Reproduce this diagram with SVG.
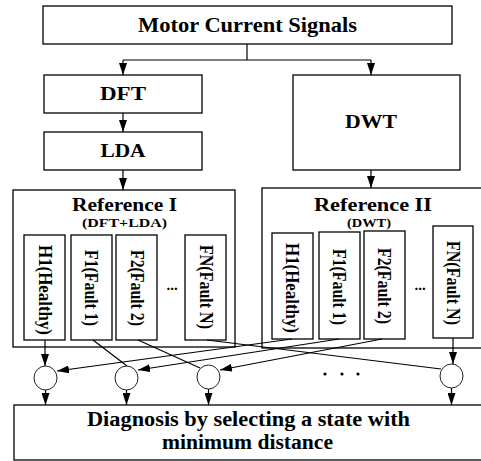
<svg xmlns="http://www.w3.org/2000/svg" width="481" height="461" viewBox="0 0 481 461">
<style>
.box{fill:#fff;stroke:#000;stroke-width:1.3}
.t{font-family:"Liberation Serif","Times New Roman",serif;font-weight:bold;fill:#000;text-anchor:middle}
.c{fill:#fff;stroke:#222;stroke-width:1}
.ln{fill:none;stroke:#000;stroke-width:1.2}
.ar{fill:none;stroke:#000;stroke-width:1.2;marker-end:url(#ah)}
</style>
<defs>
<marker id="ah" markerUnits="userSpaceOnUse" markerWidth="12" markerHeight="8" refX="12" refY="4" orient="auto">
<path d="M0,0 L12,4 L0,8 z" fill="#000"/>
</marker>
</defs>
<rect width="481" height="461" fill="#fff"/>
<g id="motor"><rect class="box" x="43" y="6" width="409" height="38"/><text class="t" x="247.5" y="32" font-size="21" textLength="219" lengthAdjust="spacingAndGlyphs">Motor Current Signals</text></g>
<g id="dft"><rect class="box" x="44" y="75" width="158" height="38"/><text class="t" x="123" y="100" font-size="19" textLength="46" lengthAdjust="spacingAndGlyphs">DFT</text></g>
<g id="lda"><rect class="box" x="44" y="132" width="158" height="38"/><text class="t" x="123" y="157" font-size="19" textLength="45" lengthAdjust="spacingAndGlyphs">LDA</text></g>
<g id="dwt"><rect class="box" x="293" y="75" width="167" height="95"/><text class="t" x="371" y="128" font-size="18" textLength="52" lengthAdjust="spacingAndGlyphs">DWT</text></g>
<g id="ref1"><rect class="box" x="13" y="190" width="222" height="157"/>
<text class="t" x="124.5" y="211" font-size="18" textLength="105" lengthAdjust="spacingAndGlyphs">Reference I</text>
<text class="t" x="124.5" y="227" font-size="12" textLength="85" lengthAdjust="spacingAndGlyphs">(DFT+LDA)</text>
<text class="t" x="172" y="290" font-size="15">...</text></g>
<g id="ref1-h1"><rect class="box" x="24" y="235" width="41" height="105"/><text class="t" transform="translate(38.5,290) rotate(90)" font-size="18" textLength="90" lengthAdjust="spacingAndGlyphs">H1(Healthy)</text></g>
<g id="ref1-f1"><rect class="box" x="71" y="235" width="41" height="105"/><text class="t" transform="translate(85,288) rotate(90)" font-size="18" textLength="76" lengthAdjust="spacingAndGlyphs">F1(Fault 1)</text></g>
<g id="ref1-f2"><rect class="box" x="116" y="235" width="41" height="105"/><text class="t" transform="translate(130.5,288) rotate(90)" font-size="18" textLength="76" lengthAdjust="spacingAndGlyphs">F2(Fault 2)</text></g>
<g id="ref1-fn"><rect class="box" x="185" y="235" width="41" height="105"/><text class="t" transform="translate(199.5,287) rotate(90)" font-size="18" textLength="84" lengthAdjust="spacingAndGlyphs">FN(Fault N)</text></g>
<g id="ref2"><rect class="box" x="262" y="188" width="225" height="160"/>
<text class="t" x="373" y="211" font-size="18" textLength="118" lengthAdjust="spacingAndGlyphs">Reference II</text>
<text class="t" x="369" y="227" font-size="12" textLength="44" lengthAdjust="spacingAndGlyphs">(DWT)</text>
<text class="t" x="420" y="290" font-size="15">...</text></g>
<g id="ref2-h1"><rect class="box" x="272" y="233" width="41" height="106"/><text class="t" transform="translate(286,288) rotate(90)" font-size="18" textLength="90" lengthAdjust="spacingAndGlyphs">H1(Healthy)</text></g>
<g id="ref2-f1"><rect class="box" x="319" y="232" width="41" height="107"/><text class="t" transform="translate(333,287) rotate(90)" font-size="18" textLength="76" lengthAdjust="spacingAndGlyphs">F1(Fault 1)</text></g>
<g id="ref2-f2"><rect class="box" x="364" y="231" width="41" height="108"/><text class="t" transform="translate(378,286) rotate(90)" font-size="18" textLength="76" lengthAdjust="spacingAndGlyphs">F2(Fault 2)</text></g>
<g id="ref2-fn"><rect class="box" x="433" y="226" width="40" height="112"/><text class="t" transform="translate(447,283) rotate(90)" font-size="18" textLength="84" lengthAdjust="spacingAndGlyphs">FN(Fault N)</text></g>
<g id="circles">
<ellipse class="c" cx="45.5" cy="378" rx="11.5" ry="12"/>
<ellipse class="c" cx="126.5" cy="378" rx="11.5" ry="12"/>
<ellipse class="c" cx="208.5" cy="377" rx="11.5" ry="12"/>
<ellipse class="c" cx="451.5" cy="376" rx="11.5" ry="12"/>
<circle cx="325" cy="374" r="1.6" fill="#000"/><circle cx="342" cy="374" r="1.6" fill="#000"/><circle cx="358" cy="374" r="1.6" fill="#000"/>
</g>
<g id="diagnosis"><rect class="box" x="14" y="405" width="475" height="55"/>
<text class="t" x="248.5" y="426" font-size="20" textLength="323" lengthAdjust="spacingAndGlyphs">Diagnosis by selecting a state with</text>
<text class="t" x="247.5" y="449" font-size="20" textLength="171" lengthAdjust="spacingAndGlyphs">minimum distance</text></g>
<g id="connectors">
<path class="ln" d="M247,44 V60 M123,60 H371"/>
<path class="ar" d="M123,60 V75"/>
<path class="ar" d="M371,60 V75"/>
<path class="ar" d="M123,113 V132"/>
<path class="ar" d="M123,170 V190"/>
<path class="ar" d="M371,170 V188"/>
<path class="ar" d="M45,340 V366"/>
<path class="ln" d="M93,340 L127,366"/>
<path class="ln" d="M138,340 L200,368"/>
<path class="ln" d="M207,340 L441,369"/>
<path class="ar" d="M292,339 L57,371"/>
<path class="ar" d="M339,339 L138,370"/>
<path class="ar" d="M382,339 L220,370"/>
<path class="ar" d="M453,338 V364"/>
<path class="ar" d="M45.5,390 V405"/>
<path class="ar" d="M126.5,390 V405"/>
<path class="ar" d="M208.5,389 V405"/>
<path class="ar" d="M451.5,388 V405"/>
</g>
</svg>
